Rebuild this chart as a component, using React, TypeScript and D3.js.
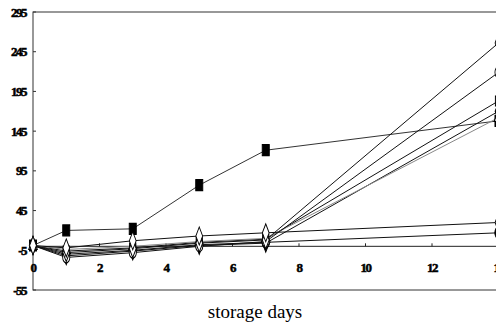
import { useEffect, useRef } from 'react';
import * as d3 from 'd3';

// storage days sampled
const days = [0, 1, 3, 5, 7, 14];

// series values
const squareSeries = [1, 20, 22, 77, 121, 158];
const steepSeries = [1, -8, -3, 4, 8, 256];
const circleSeries = [1, -14, -8, 0, 6, 219];
const filledSeries = [1, -6, -2, 5, 9, 183];
const diamondSeries = [1, -12, -6, 1, 4, 170];
const greySeries = [1, -4, 0, 6, 10, 162];
const gentleSeries = [1, -2, 7, 13, 17, 30];
const lowSeries = [1, -10, -5, 2, 5, 17];

const yTicks = [295, 245, 195, 145, 95, 45, -5, -55];
const xTicks = [0, 2, 4, 6, 8, 10, 12, 14];

export default function App() {
  const svgRef = useRef<SVGSVGElement>(null);

  useEffect(() => {
    document.body.style.margin = '0';
    if (!svgRef.current) return;

    const width = 496;
    const height = 323;

    const svg = d3.select(svgRef.current);
    svg.selectAll('*').remove();
    svg.attr('width', width).attr('height', height);

    const x = d3.scaleLinear().domain([0, 14]).range([33, 498.5]);
    const y = d3.scaleLinear().domain([-55, 295]).range([290, 12]);

    // frame
    svg
      .append('rect')
      .attr('x', x(0))
      .attr('y', y(295))
      .attr('width', x(14) - x(0))
      .attr('height', y(-55) - y(295))
      .attr('fill', 'none')
      .attr('stroke', '#333')
      .attr('stroke-width', 1);

    // y ticks + labels
    const tickFont = '"Liberation Serif", "DejaVu Serif", serif';
    yTicks.forEach((t) => {
      svg
        .append('line')
        .attr('x1', x(0))
        .attr('x2', x(0) + 3)
        .attr('y1', y(t))
        .attr('y2', y(t))
        .attr('stroke', '#333');
      svg
        .append('text')
        .attr('x', 26)
        .attr('y', y(t))
        .attr('dy', '0.35em')
        .attr('text-anchor', 'end')
        .attr('font-family', tickFont)
        .attr('font-weight', 'bold')
        .attr('font-size', 13)
        .attr('letter-spacing', -1.5)
        .attr('stroke', '#000')
        .attr('stroke-width', 0.5)
        .text(String(t));
    });

    // x axis at zero
    svg
      .append('line')
      .attr('x1', x(0))
      .attr('x2', x(14))
      .attr('y1', y(0))
      .attr('y2', y(0))
      .attr('stroke', '#222');
    xTicks.forEach((t) => {
      svg
        .append('line')
        .attr('x1', x(t))
        .attr('x2', x(t))
        .attr('y1', y(0))
        .attr('y2', y(0) - 3)
        .attr('stroke', '#222');
      svg
        .append('text')
        .attr('x', x(t))
        .attr('y', y(0) + 26)
        .attr('text-anchor', 'middle')
        .attr('font-family', tickFont)
        .attr('font-weight', 'bold')
        .attr('font-size', 13)
        .attr('letter-spacing', -1.5)
        .attr('stroke', '#000')
        .attr('stroke-width', 0.5)
        .text(String(t));
    });

    // series, drawn filled first so the open markers sit on top
    const series = [
      { values: squareSeries, symbol: d3.symbolSquare, fill: '#000', stroke: '#333', size: 70 },
      { values: filledSeries, symbol: d3.symbolSquare, fill: '#000', stroke: '#111', size: 55 },
      { values: diamondSeries, symbol: d3.symbolDiamond, fill: '#000', stroke: '#111', size: 55 },
      { values: lowSeries, symbol: d3.symbolCircle, fill: '#000', stroke: '#111', size: 60 },
      { values: greySeries, symbol: d3.symbolTriangle, fill: '#fff', stroke: '#888', size: 45 },
      { values: circleSeries, symbol: d3.symbolCircle, fill: '#fff', stroke: '#111', size: 55 },
      { values: steepSeries, symbol: d3.symbolDiamond, fill: '#fff', stroke: '#111', size: 55 },
      { values: gentleSeries, symbol: d3.symbolDiamond, fill: '#fff', stroke: '#111', size: 55 },
    ];

    const line = d3
      .line<number>()
      .x((_, i) => x(days[i]))
      .y((d) => y(d));

    series.forEach((s) => {
      svg
        .append('path')
        .attr('d', line(s.values))
        .attr('fill', 'none')
        .attr('stroke', s.stroke)
        .attr('stroke-width', 1);
    });

    series.forEach((s) => {
      const sym = d3.symbol().type(s.symbol).size(s.size);
      svg
        .append('g')
        .selectAll('path')
        .data(s.values)
        .enter()
        .append('path')
        .attr('d', sym() as string)
        .attr('transform', (d, i) => `translate(${x(days[i])},${y(d)}) scale(0.85,1.3)`)
        .attr('fill', s.fill)
        .attr('stroke', '#000')
        .attr('stroke-width', 1);
    });

    // axis title
    svg
      .append('text')
      .attr('x', 255)
      .attr('y', 318)
      .attr('text-anchor', 'middle')
      .attr('font-family', tickFont)
      .attr('font-size', 19)
      .text('storage days');
  }, []);

  return (
    <div style={{ position: 'fixed', left: 0, top: 0, background: '#fff' }}>
      <svg ref={svgRef} style={{ display: 'block' }} />
    </div>
  );
}
